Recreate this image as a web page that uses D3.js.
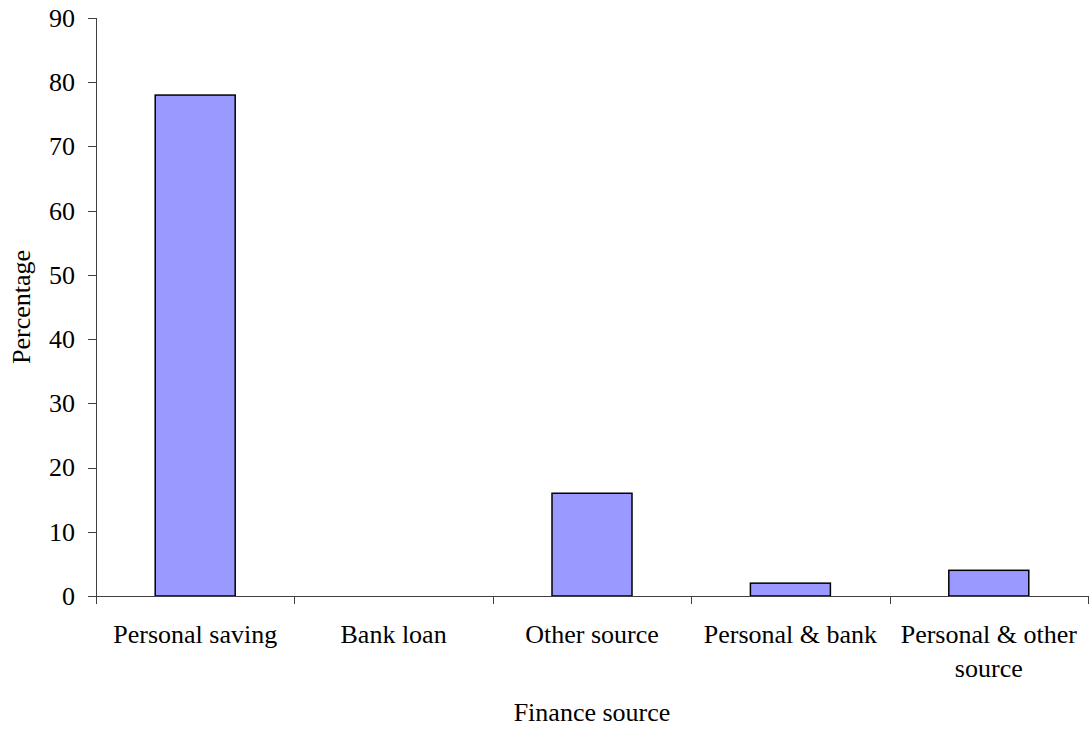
<!DOCTYPE html>
<html>
<head>
<meta charset="utf-8">
<script src="https://cdn.jsdelivr.net/npm/d3@7/dist/d3.min.js"></script>
<style>
  html, body { margin: 0; padding: 0; background: #fff; }
  svg { display: block; }
</style>
</head>
<body>
<svg id="chart" width="1089" height="729"></svg>
<script>
const categories = ["Personal saving", "Bank loan", "Other source", "Personal & bank", "Personal & other source"];
const categoryLines = [["Personal saving"], ["Bank loan"], ["Other source"], ["Personal & bank"], ["Personal & other", "source"]];
const values = [78, 0, 16, 2, 4];
const yTicks = [0, 10, 20, 30, 40, 50, 60, 70, 80, 90];
const xTitle = "Finance source";
const yTitle = "Percentage";

(function () {
const svg = d3.select("#chart")
  .attr("font-family", "'Liberation Serif', 'Times New Roman', Tinos, 'DejaVu Serif', serif");
const plotLeft = 96, plotRight = 1088, plotTop = 18, plotBottom = 596;
const fontSize = 26;
const axisColor = "#404040";

const p = 0.5968;
const x = d3.scaleBand().domain(categories).range([plotLeft, plotRight]).paddingInner(p).paddingOuter(p / 2);
const y = d3.scaleLinear().domain([0, 90]).range([plotBottom, plotTop]);

// y axis
const yAxis = svg.append("g");
yAxis.append("line").attr("x1", plotLeft + 0.5).attr("x2", plotLeft + 0.5).attr("y1", y(90)).attr("y2", y(0))
  .attr("stroke", axisColor).attr("stroke-width", 1);
yAxis.selectAll("line.tick").data(yTicks).enter().append("line")
  .attr("class", "tick")
  .attr("x1", plotLeft - 8).attr("x2", plotLeft + 0.5)
  .attr("y1", d => Math.round(y(d)) + 0.5).attr("y2", d => Math.round(y(d)) + 0.5)
  .attr("stroke", axisColor).attr("stroke-width", 1);
yAxis.selectAll("text").data(yTicks).enter().append("text")
  .attr("x", plotLeft - 21).attr("y", d => y(d)).attr("dy", "0.34em")
  .attr("text-anchor", "end").attr("font-size", fontSize).attr("fill", "#000")
  .text(d => d);

// bars
svg.append("g").selectAll("rect").data(values).enter().append("rect")
  .attr("x", (d, i) => x(categories[i]))
  .attr("y", d => y(d))
  .attr("width", x.bandwidth())
  .attr("height", d => y(0) - y(d))
  .attr("fill", "#9999FF")
  .attr("stroke", d => d > 0 ? "#000" : "none")
  .attr("stroke-width", 1.5);

// x axis
const xAxis = svg.append("g");
xAxis.append("line").attr("x1", plotLeft - 8).attr("x2", plotRight).attr("y1", plotBottom + 0.5).attr("y2", plotBottom + 0.5)
  .attr("stroke", axisColor).attr("stroke-width", 1);
const step = x.step();
const boundaries = d3.range(categories.length + 1).map(i => plotLeft + i * step);
xAxis.selectAll("line.tick").data(boundaries).enter().append("line")
  .attr("class", "tick")
  .attr("x1", d => Math.min(Math.round(d) + 0.5, 1088.5)).attr("x2", d => Math.min(Math.round(d) + 0.5, 1088.5))
  .attr("y1", plotBottom).attr("y2", plotBottom + 8)
  .attr("stroke", axisColor).attr("stroke-width", 1);
const labels = xAxis.selectAll("text").data(categories).enter().append("text")
  .attr("x", d => x(d) + x.bandwidth() / 2)
  .attr("y", 643)
  .attr("text-anchor", "middle").attr("font-size", fontSize).attr("fill", "#000");
labels.each(function (d, i) {
  const t = d3.select(this);
  categoryLines[i].forEach((line, j) => {
    t.append("tspan").attr("x", x(d) + x.bandwidth() / 2).attr("dy", j === 0 ? 0 : 34).text(line);
  });
});

// titles
svg.append("text").attr("x", (plotLeft + plotRight) / 2).attr("y", 721)
  .attr("text-anchor", "middle").attr("font-size", fontSize).attr("fill", "#000").text(xTitle);
svg.append("text").attr("transform", `translate(30,${(plotTop + plotBottom) / 2}) rotate(-90)`)
  .attr("text-anchor", "middle").attr("font-size", fontSize).attr("fill", "#000").text(yTitle);
})();
</script>
</body>
</html>
